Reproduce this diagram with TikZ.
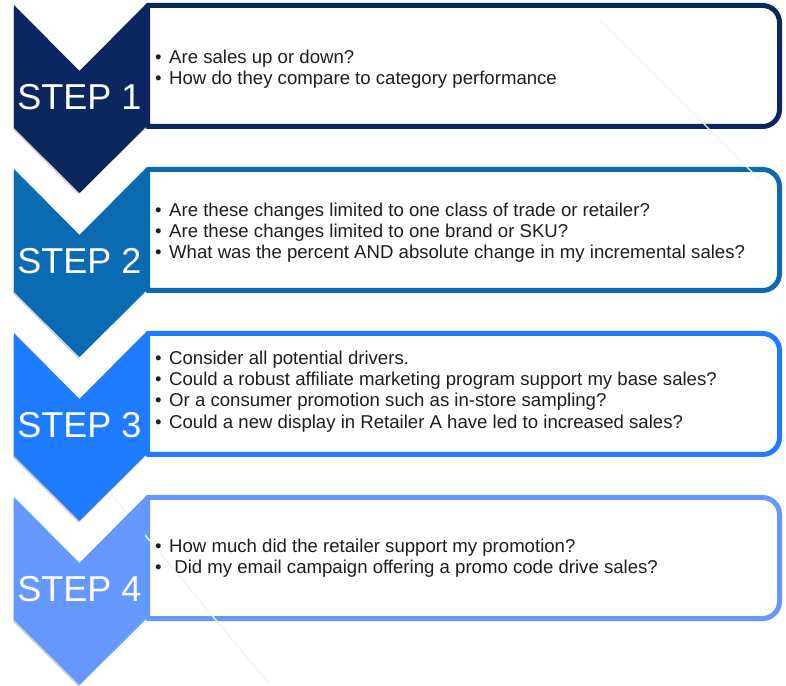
\documentclass[tikz,border=0pt]{standalone}
\usepackage{fontspec}
\setmainfont{Liberation Sans}
\usetikzlibrary{shadows}
\definecolor{stepA}{HTML}{0D2660}
\definecolor{stepB}{HTML}{0A6BB3}
\definecolor{stepC}{HTML}{1F7BFF}
\definecolor{stepD}{HTML}{6699FF}
\definecolor{bodytext}{HTML}{1E1E1E}
\definecolor{faint}{HTML}{F3F3F3}
\newcommand{\bul}{\makebox[14pt][l]{•}}
\tikzset{
  chevron/.style={fill=#1, draw=none,
    drop shadow={shadow xshift=-1.2pt, shadow yshift=-1.5pt, opacity=0.18, fill=black}},
  framebox/.style={draw=#1, line width=5pt, fill=white, line join=round},
  steplabel/.style={text=white, font=\fontsize{36}{40}\selectfont, inner sep=0pt},
  bullets/.style={text=bodytext, font=\fontsize{18.6}{21.3}\selectfont, align=left,
    anchor=west, inner sep=0pt},
  bgline/.style={draw=faint, line width=1.3pt}
}
\begin{document}
\begin{tikzpicture}[x=1pt,y=1pt]
\useasboundingbox (0,0) rectangle (786,685);
\fill[white] (0,0) rectangle (786,685);

% one step: frame and bullet text
% #1 index, #2 colour, #3 top edge (from the top of the page), #4 text offset, #5 text
\newcommand{\stepframe}[5]{%
  \pgfmathsetmacro{\T}{685-#3}%
  \draw[framebox=#2] (147.5,\T-0.5) -- (762.5,\T-0.5)
     arc[start angle=90, end angle=0, radius=17] -- (779.5,\T-104.5)
     arc[start angle=0, end angle=-90, radius=17] -- (147.5,\T-121.5) -- cycle;
  \node[bullets] (text#1) at (155,\T-#4) {#5};
}
% chevron with its label
% #1 index, #2 colour, #3 top edge, #4 label
\newcommand{\stepchevron}[4]{%
  \pgfmathsetmacro{\T}{685-#3}%
  \path[chevron=#2] (14,\T) -- (79.5,\T-66) -- (145,\T) -- (145,\T-123)
     -- (79.5,\T-188) -- (14,\T-123) -- cycle;
  \node[steplabel] (label#1) at (79.5,\T-92) {#4};
}

\stepframe{1}{stepA}{5}{64}{%
  \bul Are sales up or down?\\
  \bul How do they compare to category performance}
\stepframe{2}{stepB}{169}{63.5}{%
  \bul Are these changes limited to one class of trade or retailer?\\
  \bul Are these changes limited to one brand or SKU?\\
  \bul What was the percent AND absolute change in my incremental sales?}
\stepframe{3}{stepC}{333}{58.5}{%
  \bul Consider all potential drivers.\\
  \bul Could a robust affiliate marketing program support my base sales?\\
  \bul Or a consumer promotion such as in-store sampling?\\
  \bul Could a new display in Retailer A have led to increased sales?}
\stepframe{4}{stepD}{497}{61.5}{%
  \bul How much did the retailer support my promotion?\\
  \bul\ Did my email campaign offering a promo code drive sales?}

% faint template lines in the background
\draw[bgline] (600,665) -- (760,505);
\draw[bgline] (110,192) -- (270,0);

\stepchevron{1}{stepA}{5}{STEP 1}
\stepchevron{2}{stepB}{169}{STEP 2}
\stepchevron{3}{stepC}{333}{STEP 3}
\stepchevron{4}{stepD}{497}{STEP 4}
\end{tikzpicture}
\end{document}
